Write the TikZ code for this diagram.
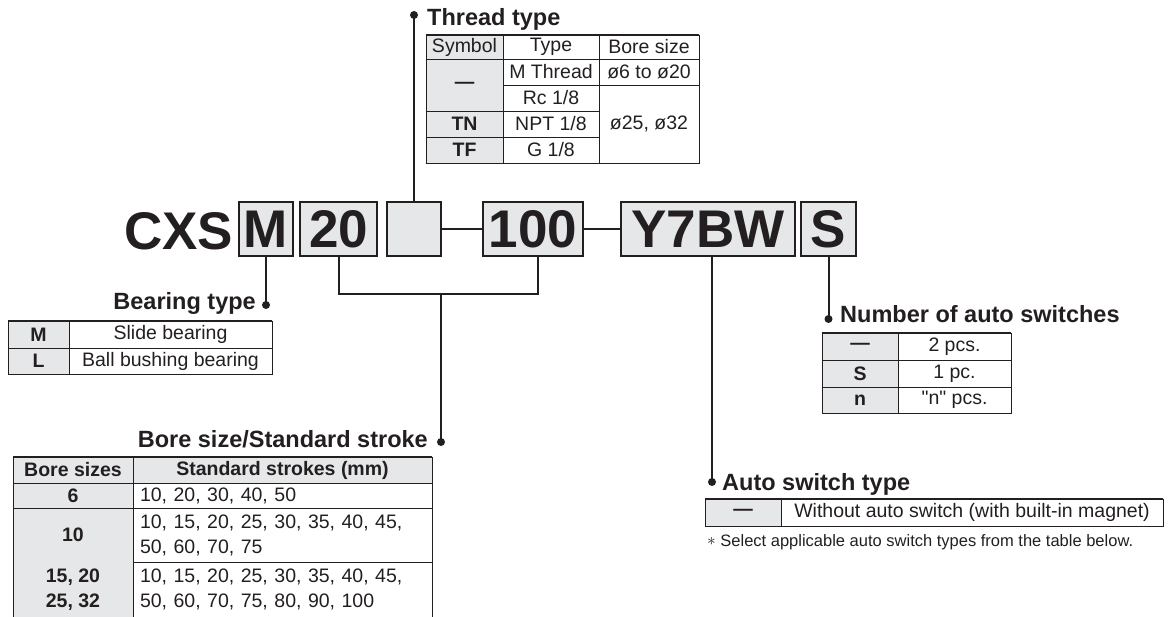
\documentclass[tikz,border=0pt]{standalone}
\usepackage{fontspec}
\setmainfont[Ligatures=TeXOff]{Liberation Sans}
\definecolor{ink}{RGB}{35,31,32}
\definecolor{shade}{RGB}{230,231,232}
\tikzset{
  codebox/.style={draw=ink, line width=2pt, fill=shade, inner sep=0pt, outer sep=0pt,
    minimum height=54pt, text height=38pt, text depth=0pt,
    font=\fontsize{53}{53}\selectfont\bfseries, text=ink},
  cell/.style={draw=ink, line width=0.9pt, inner sep=0pt, outer sep=0pt,
    font=\fontsize{19.5}{25}\selectfont, text=ink, align=center},
  cellfill/.style={inner sep=0pt, outer sep=0pt,
    font=\fontsize{19.5}{25}\selectfont, text=ink, align=center},
  sym/.style={fill=shade},
  hd/.style={fill=shade},
  b/.style={font=\fontsize{19.5}{25}\selectfont\bfseries},
  lcell/.style={align=left, inner xsep=7pt},
  label/.style={inner sep=0pt, font=\fontsize{23.5}{26}\selectfont\bfseries, text=ink},
  conn/.style={draw=ink, line width=2pt},
  topline/.style={draw=ink, line width=2pt},
  dot/.style={fill=ink},
}
\newcommand\tcell[7]{\node[#6,minimum width={#4pt-#2pt},minimum height={#5pt-#3pt}] (#1) at ({(#2+#4)/2},{(#3+#5)/2}) {#7};}
\begin{document}
\begin{tikzpicture}[x=1pt,y=-1pt]
\useasboundingbox (0,0) rectangle (1169,617);

% ---- code boxes ----
\node[inner sep=0pt, anchor=base west, font=\fontsize{53}{53}\selectfont\bfseries, text=ink] (cxs) at (124,250) {CXS};
\node[codebox, minimum width=54pt] (b1) at (266,229) {M};
\node[codebox, minimum width=77pt] (b2) at (338.5,229) {20};
\node[codebox, minimum width=54pt] (b3) at (414,229) {};
\node[codebox, minimum width=100pt] (b4) at (533,229) {100};
\node[codebox, minimum width=174pt] (b5) at (708,229) {Y7BW};
\node[codebox, minimum width=55pt] (b6) at (828.5,229) {S};
\draw[conn] (b3.east) -- (b4.west);
\draw[conn] (b4.east) -- (b5.west);

% ---- connectors ----
\coordinate (dThr) at (414,15);
\coordinate (dBear) at (266,305);
\coordinate (b4s) at (538,256);
\coordinate (br) at (538,294);
\coordinate (bm) at (441,294);
\coordinate (dBore) at (441,442);
\coordinate (b5s) at (712,256);
\coordinate (dAuto) at (712,482);
\coordinate (dNum) at (828.5,319);
\draw[conn] (b3.north) -- (dThr);
\draw[conn] (b1.south) -- (dBear);
\draw[conn] (b2.south) |- (br) -- (b4s);
\draw[conn] (bm) -- (dBore);
\draw[conn] (b5s) -- (dAuto);
\draw[conn] (b6.south) -- (dNum);
\foreach \d in {dThr,dBear,dBore,dAuto,dNum} \fill[dot] (\d) circle[radius=4pt];

% ---- labels ----
\node[label, anchor=base west] (lThr) at (427,26) {Thread type};
\node[label, anchor=base east] (lBear) at (256,310) {Bearing type};
\node[label, anchor=base east] (lBore) at (428,447) {Bore size/Standard stroke};
\node[label, anchor=base west] (lNum) at (840,323) {Number of auto switches};
\node[label, anchor=base west] (lAuto) at (722,490) {Auto switch type};

% ---- thread type table ----
\tcell{t11}{426}{35}{503}{59}{cell,hd}{Symbol}
\tcell{t12}{503}{35}{599}{59}{cell}{Type}
\tcell{t13}{599}{35}{699}{59}{cell}{Bore size}
\tcell{t21}{426}{59}{503}{111}{cell,sym,b}{—}
\tcell{t22}{503}{59}{599}{85}{cell}{M Thread}
\tcell{t23}{599}{59}{699}{85}{cell}{ø6 to ø20}
\tcell{t32}{503}{85}{599}{111}{cell}{Rc 1/8}
\tcell{t33}{599}{85}{699}{163}{cell}{ø25, ø32}
\tcell{t41}{426}{111}{503}{137}{cell,sym,b}{TN}
\tcell{t42}{503}{111}{599}{137}{cell}{NPT 1/8}
\tcell{t51}{426}{137}{503}{163}{cell,sym,b}{TF}
\tcell{t52}{503}{137}{599}{163}{cell}{G 1/8}
\draw[topline] (t11.north west) -- (t13.north east);

% ---- bearing type table ----
\tcell{r11}{8}{321}{69}{348}{cell,sym,b}{M}
\tcell{r12}{69}{321}{272}{348}{cell}{Slide bearing}
\tcell{r21}{8}{348}{69}{374}{cell,sym,b}{L}
\tcell{r22}{69}{348}{272}{374}{cell}{Ball bushing bearing}
\draw[topline] (r11.north west) -- (r12.north east);

% ---- bore size table ----
\tcell{s11}{13}{457}{133}{483}{cell,hd,b}{Bore sizes}
\tcell{s12}{133}{457}{432}{483}{cell,hd,b}{Standard strokes (mm)}
\tcell{s21}{13}{483}{133}{508}{cell,sym,b}{6}
\tcell{s22}{133}{483}{432}{508}{cell,lcell,text width=285pt}{10, 20, 30, 40, 50}
\tcell{s31}{13}{508}{133}{562}{cell,sym,b}{10}
\tcell{s32}{133}{508}{432}{562}{cell,lcell,text width=285pt}{10, 15, 20, 25, 30, 35, 40, 45,\\50, 60, 70, 75}
\tcell{s41}{13}{562}{133}{617}{cellfill,sym,b}{15, 20\\25, 32}
\tcell{s42}{133}{562}{432}{617}{cellfill,lcell,text width=285pt}{10, 15, 20, 25, 30, 35, 40, 45,\\50, 60, 70, 75, 80, 90, 100}
\draw[draw=ink, line width=0.9pt] (s41.north west) -- (s41.south west)
  (s41.north east) -- (s41.south east) (s42.north east) -- (s42.south east);
\draw[topline] (s11.north west) -- (s12.north east);

% ---- number of auto switches table ----
\tcell{n11}{822}{333}{898}{360}{cell,sym,b}{—}
\tcell{n12}{898}{333}{1011}{360}{cell}{2 pcs.}
\tcell{n21}{822}{360}{898}{387}{cell,sym,b}{S}
\tcell{n22}{898}{360}{1011}{387}{cell}{1 pc.}
\tcell{n31}{822}{387}{898}{413}{cell,sym,b}{n}
\tcell{n32}{898}{387}{1011}{413}{cell}{"n" pcs.}
\draw[topline] (n11.north west) -- (n12.north east);

% ---- auto switch type table ----
\tcell{a11}{705}{499}{781}{526}{cell,sym,b}{—}
\tcell{a12}{781}{499}{1163}{526}{cell}{Without auto switch (with built-in magnet)}
\draw[topline] (a11.north west) -- (a12.north east);
\node[inner sep=0pt, anchor=base west, font=\fontsize{16.5}{18}\selectfont, text=ink] (note) at (707,546)
  {\raisebox{1pt}{\fontsize{16}{16}\selectfont$\ast$} Select applicable auto switch types from the table below.};
\end{tikzpicture}
\end{document}
